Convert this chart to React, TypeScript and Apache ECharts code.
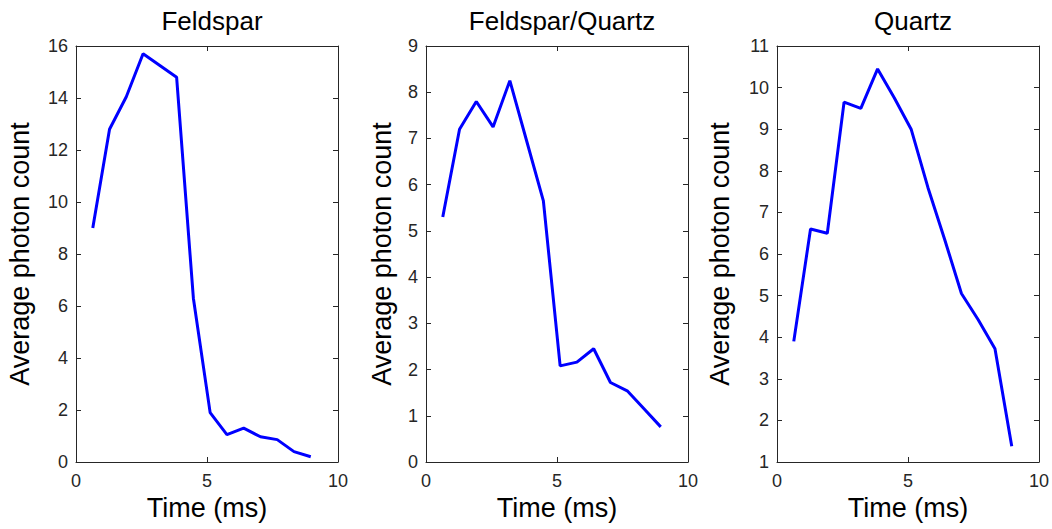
import React, { useEffect, useRef } from "react";
import * as echarts from "echarts";

const titles = ["Feldspar", "Feldspar/Quartz", "Quartz"];
const times = [0.64, 1.28, 1.92, 2.56, 3.2, 3.84, 4.48, 5.12, 5.76, 6.4, 7.04, 7.68, 8.32, 8.96];
const feldspar = [9.0, 12.8, 14.05, 15.7, 15.25, 14.8, 6.3, 1.9, 1.05, 1.3, 0.97, 0.86, 0.4, 0.2];
const feldsparQuartz = [5.3, 7.2, 7.8, 7.25, 8.25, 6.95, 5.65, 2.08, 2.16, 2.45, 1.72, 1.54, 1.15, 0.76];
const quartz = [3.9, 6.6, 6.5, 9.65, 9.5, 10.45, 9.75, 9.0, 7.6, 6.35, 5.05, 4.42, 3.72, 1.38];
const yRanges = [
  { min: 0, max: 16, interval: 2 },
  { min: 0, max: 9, interval: 1 },
  { min: 1, max: 11, interval: 1 },
];
const xRange = { min: 0, max: 10, interval: 5 };
const xName = "Time (ms)";
const yName = "Average photon count";

const FONT = "'Liberation Sans', Arial, Helvetica, sans-serif";
const AXIS_COLOR = "#262626";

export default function App() {
  const ref = useRef<HTMLDivElement>(null);
  useEffect(() => {
    if (!ref.current) return;
    const chart = echarts.init(ref.current, undefined, { renderer: "svg" });
    const seriesData = [feldspar, feldsparQuartz, quartz];
    const lefts = [76, 426, 777];
    const yGaps = [43, 31, 44];
    const W = 262;
    const H = 416;
    const TOP = 46;

    const grids: any[] = [];
    const xAxes: any[] = [];
    const yAxes: any[] = [];
    const series: any[] = [];
    const titleArr: any[] = [];

    const axisLine = { show: true, onZero: false, lineStyle: { color: AXIS_COLOR, width: 1 } };
    const axisTick = { show: true, inside: true, length: 5, lineStyle: { color: AXIS_COLOR, width: 1 } };

    for (let i = 0; i < 3; i++) {
      grids.push({ left: lefts[i], top: TOP, width: W, height: H, containLabel: false });
      titleArr.push({
        text: titles[i],
        left: lefts[i] + W / 2,
        top: 3,
        textAlign: "center",
        textStyle: { fontFamily: FONT, fontSize: 26, fontWeight: "normal", color: "#000" },
      });
      xAxes.push({
        type: "value",
        gridIndex: i,
        position: "bottom",
        ...xRange,
        axisLine,
        axisTick,
        splitLine: { show: false },
        axisLabel: { show: true, margin: 10, fontFamily: FONT, fontSize: 18, color: "#262626" },
        name: xName,
        nameLocation: "middle",
        nameGap: 32,
        nameTextStyle: { fontFamily: FONT, fontSize: 27, color: "#000", verticalAlign: "top" },
      });
      xAxes.push({
        type: "value",
        gridIndex: i,
        position: "top",
        ...xRange,
        axisLine,
        axisTick,
        splitLine: { show: false },
        axisLabel: { show: false },
      });
      yAxes.push({
        type: "value",
        gridIndex: i,
        position: "left",
        ...yRanges[i],
        axisLine,
        axisTick,
        splitLine: { show: false },
        axisLabel: { show: true, margin: 8, fontFamily: FONT, fontSize: 18, color: "#262626" },
        name: yName,
        nameLocation: "middle",
        nameGap: yGaps[i],
        nameTextStyle: { fontFamily: FONT, fontSize: 27, color: "#000" },
      });
      yAxes.push({
        type: "value",
        gridIndex: i,
        position: "right",
        ...yRanges[i],
        axisLine,
        axisTick,
        splitLine: { show: false },
        axisLabel: { show: false },
      });
      series.push({
        type: "line",
        xAxisIndex: 2 * i,
        yAxisIndex: 2 * i,
        data: times.map((t, k) => [t, seriesData[i][k]]),
        showSymbol: false,
        symbol: "none",
        lineStyle: { color: "#0000ff", width: 3 },
        itemStyle: { color: "#0000ff" },
      });
    }

    chart.setOption({
      animation: false,
      backgroundColor: "#ffffff",
      title: titleArr,
      grid: grids,
      xAxis: xAxes,
      yAxis: yAxes,
      series,
    });
    return () => chart.dispose();
  }, []);
  return (
    <div
      ref={ref}
      style={{ position: "fixed", left: 0, top: 0, width: 1052, height: 529, background: "#fff" }}
    />
  );
}
